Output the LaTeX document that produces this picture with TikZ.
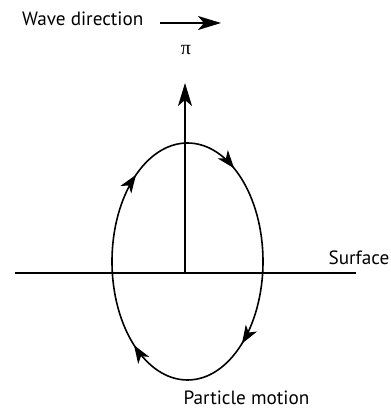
\documentclass[tikz,border=0pt]{standalone}
\usepackage{fontspec}
\setmainfont{PT Sans}
\newfontfamily\pifont{Liberation Serif}
\usetikzlibrary{arrows.meta,decorations.markings}
\tikzset{
  lbl/.style={inner sep=0pt, font=\fontsize{19.2}{22}\selectfont},
  axisline/.style={line width=1.6pt, black},
  bigarrow/.style={axisline, -{Stealth[length=23pt,width=14pt,inset=6pt]}},
  orbit/.style={line width=1.6pt, postaction={decorate}, decoration={markings,
    mark=at position 0.161 with {\arrowreversed{Stealth[length=18pt,width=13pt,inset=5pt]}},
    mark=at position 0.352 with {\arrowreversed{Stealth[length=18pt,width=13pt,inset=5pt]}},
    mark=at position 0.642 with {\arrowreversed{Stealth[length=18pt,width=13pt,inset=5pt]}},
    mark=at position 0.861 with {\arrowreversed{Stealth[length=18pt,width=13pt,inset=5pt]}}}}
}
\begin{document}
\begin{tikzpicture}[x=1pt,y=1pt]
\useasboundingbox (0,0) rectangle (391,408);
% wave direction
\node[lbl, anchor=base west] (wave) at (22,382) {Wave direction};
\coordinate (wa) at (160,385);
\coordinate (wb) at (221,385);
\draw[bigarrow] (wa) -- (wb);
% pi label
\node[inner sep=0pt, anchor=base, font=\pifont\fontsize{20}{20}\selectfont] (pi) at (186,353) {π};
% ellipse
\coordinate (c) at (187.5,146.5);
\draw[orbit] (c) ellipse [x radius=75.5pt, y radius=118.5pt];
% vertical axis
\coordinate (o) at (185,135);
\coordinate (top) at (185,325);
\draw[bigarrow] (o) -- (top);
% surface line
\coordinate (sl) at (15,135);
\coordinate (sr) at (356,135);
\draw[axisline] (sl) -- (sr);
\node[lbl, anchor=base east] (surf) at (389.5,143) {Surface};
\node[lbl, anchor=base] (pm) at (246.5,4) {Particle motion};
\end{tikzpicture}
\end{document}
